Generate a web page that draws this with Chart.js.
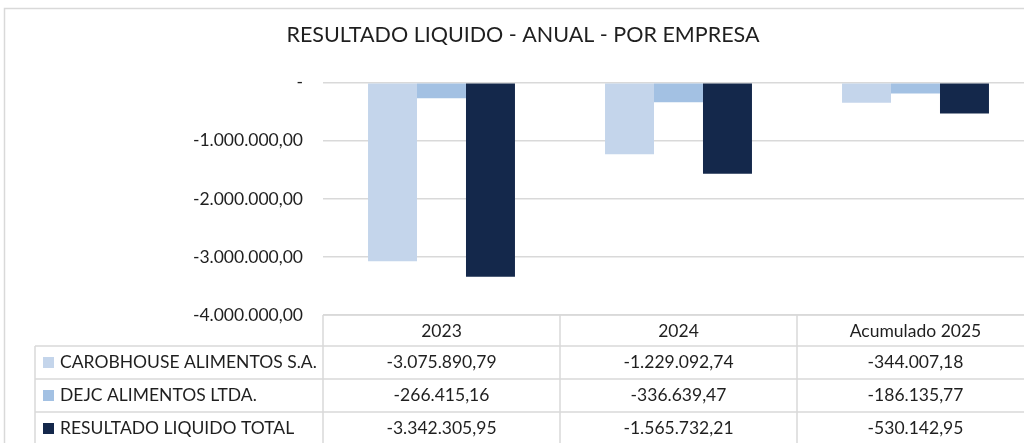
<!DOCTYPE html>
<html>
<head>
<meta charset="utf-8">
<script src="https://cdn.jsdelivr.net/npm/chart.js@4"></script>
<style>
  html, body { margin: 0; padding: 0; background: #fff; overflow: hidden; width: 1024px; height: 443px; }
  #wrap { position: absolute; left: 0; top: 0; width: 1045px; height: 443px; }
</style>
</head>
<body>
<div id="wrap"><canvas id="c" width="1045" height="443"></canvas></div>
<script>
const categories = ["2023", "2024", "Acumulado 2025"];
const seriesNames = ["CAROBHOUSE ALIMENTOS S.A.", "DEJC ALIMENTOS LTDA.", "RESULTADO LIQUIDO TOTAL"];
const carobhouse = [-3075890.79, -1229092.74, -344007.18];
const dejc = [-266415.16, -336639.47, -186135.77];
const total = [-3342305.95, -1565732.21, -530142.95];
const seriesColors = ["#c4d5eb", "#a3c1e3", "#14284b"];
const titleText = "RESULTADO LIQUIDO - ANUAL - POR EMPRESA";

const FONT = "Lato";
const TEXT = "#1f1f1f";
const FS = 17.5;

function fmt(v) {
  const neg = v < 0;
  const s = Math.abs(v).toFixed(2);
  let [ip, dp] = s.split(".");
  ip = ip.replace(/\B(?=(\d{3})+(?!\d))/g, ".");
  return (neg ? "-" : "") + ip + "," + dp;
}

const frame = {
  id: "frame",
  beforeDraw(chart) {
    const ctx = chart.ctx;
    ctx.save();
    ctx.strokeStyle = "#d9d9d9";
    ctx.lineWidth = 1.5;
    ctx.strokeRect(4.5, 8.5, 1100, 500);
    ctx.restore();
  }
};

const dataTable = {
  id: "dataTable",
  afterDraw(chart) {
    const ctx = chart.ctx;
    const area = chart.chartArea;
    const xs = chart.scales.x;
    const n = categories.length;
    const cw = (area.right - area.left) / n;
    const top = area.bottom;
    const headH = 31, rowH = 33;
    const legLeft = 35;
    const series = [carobhouse, dejc, total];
    ctx.save();
    ctx.strokeStyle = "#d9d9d9";
    ctx.lineWidth = 1.5;
    ctx.beginPath();
    ctx.moveTo(area.left, top); ctx.lineTo(area.right + 20, top);
    for (let r = 0; r < 3; r++) {
      const y = top + headH + r * rowH;
      ctx.moveTo(legLeft, y); ctx.lineTo(area.right + 20, y);
    }
    for (let i = 0; i <= n; i++) {
      const x = area.left + i * cw;
      ctx.moveTo(x, top); ctx.lineTo(x, 460);
    }
    ctx.moveTo(legLeft, top + headH); ctx.lineTo(legLeft, 460);
    ctx.stroke();

    ctx.font = FS + "px " + FONT;
    ctx.fillStyle = TEXT;
    ctx.textBaseline = "middle";
    ctx.textAlign = "center";
    for (let i = 0; i < n; i++) {
      const cx = xs.getPixelForValue(i);
      ctx.fillText(categories[i], cx, top + headH / 2 + 1);
      for (let r = 0; r < 3; r++) {
        ctx.fillText(fmt(series[r][i]), cx, top + headH + r * rowH + rowH / 2);
      }
    }
    ctx.textAlign = "left";
    for (let r = 0; r < 3; r++) {
      const yc = top + headH + r * rowH + rowH / 2;
      ctx.fillStyle = seriesColors[r];
      ctx.fillRect(43, yc - 5.5, 11, 11);
      ctx.fillStyle = TEXT;
      ctx.fillText(seriesNames[r], 60, yc);
    }
    ctx.restore();
  }
};

new Chart(document.getElementById("c"), {
  type: "bar",
  data: {
    labels: categories,
    datasets: [
      { label: seriesNames[0], data: carobhouse, backgroundColor: seriesColors[0] },
      { label: seriesNames[1], data: dejc, backgroundColor: seriesColors[1] },
      { label: seriesNames[2], data: total, backgroundColor: seriesColors[2] }
    ]
  },
  options: {
    responsive: false,
    animation: false,
    layout: { padding: { left: 12, right: 11, top: 0, bottom: 128 } },
    datasets: { bar: { categoryPercentage: 0.62, barPercentage: 1.0, borderWidth: 0 } },
    plugins: {
      legend: { display: false },
      tooltip: { enabled: false },
      title: {
        display: true,
        text: titleText,
        color: TEXT,
        font: { family: FONT, size: 21.5, weight: "normal" },
        padding: { top: 22, bottom: 35 }
      }
    },
    scales: {
      x: { display: false },
      y: {
        min: -4000000,
        max: 0,
        afterFit(scale) { scale.width = 311; },
        border: { display: false },
        grid: { color: "#d9d9d9", lineWidth: 1.5, drawTicks: false },
        ticks: {
          stepSize: 1000000,
          padding: 20,
          color: TEXT,
          font: { family: FONT, size: FS },
          callback: (v) => v === 0 ? "-" : fmt(v)
        }
      }
    }
  },
  plugins: [frame, dataTable]
});
</script>
</body>
</html>
